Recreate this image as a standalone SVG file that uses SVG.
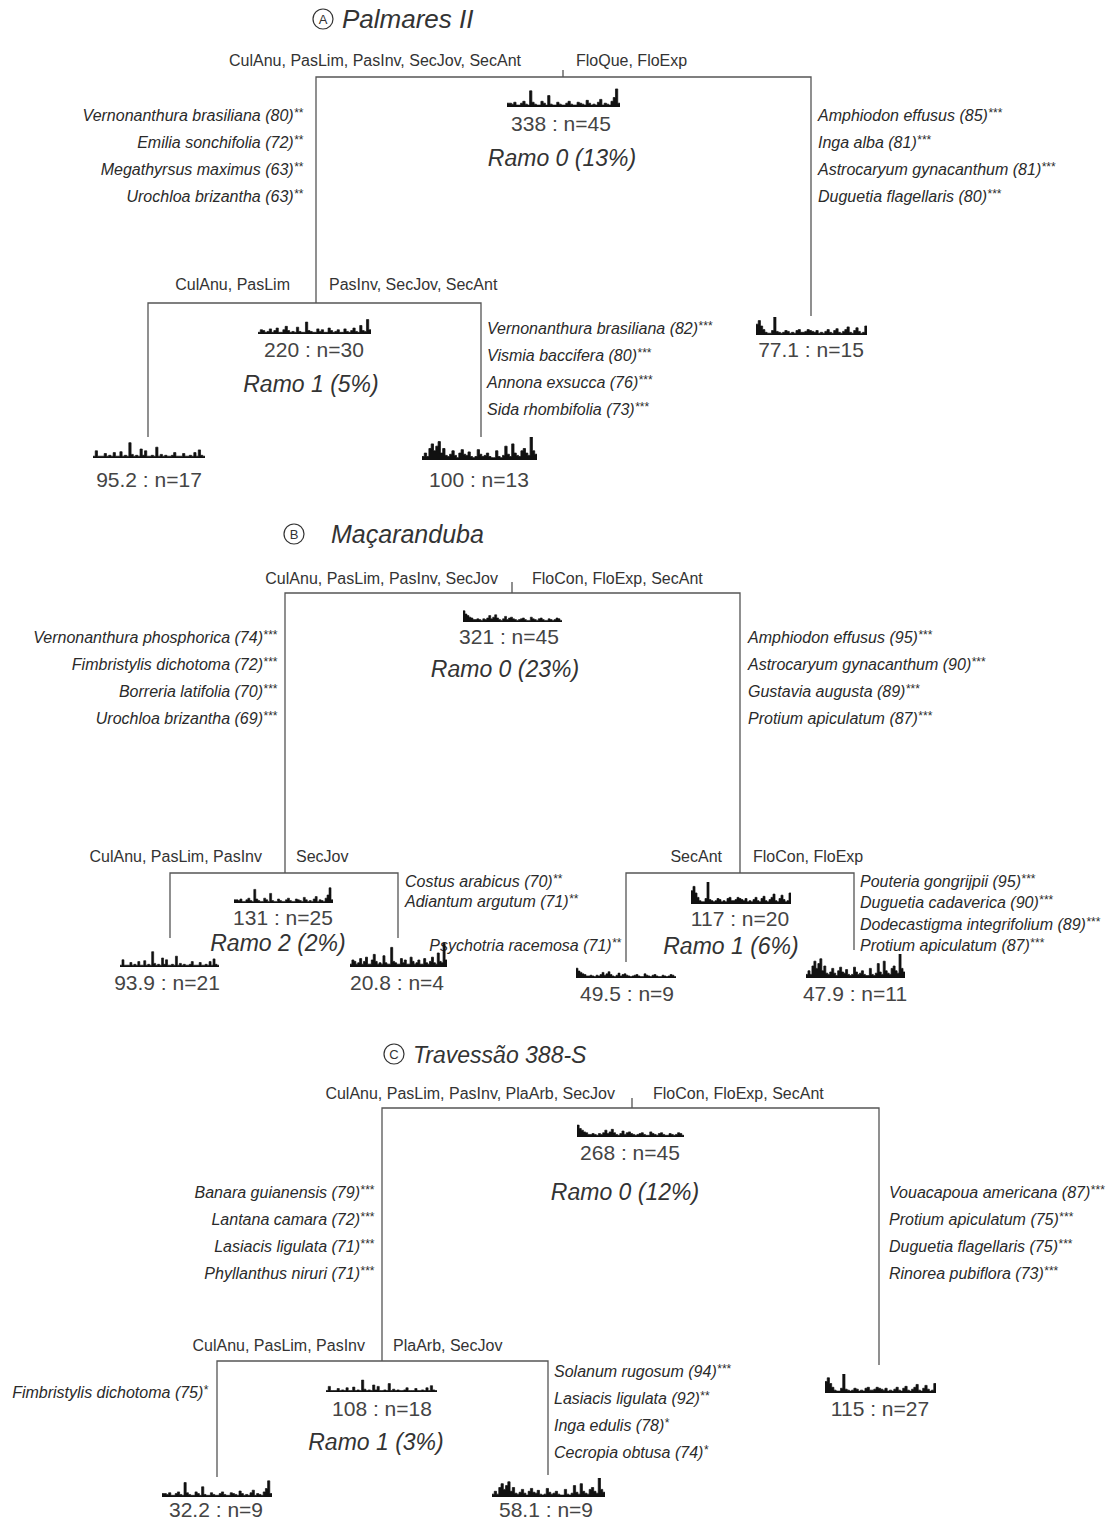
<svg xmlns="http://www.w3.org/2000/svg" xmlns:xlink="http://www.w3.org/1999/xlink" width="1112" height="1522" viewBox="0 0 1112 1522">
<style>
.bg{fill:#fff}
.ttl{font-family:"Liberation Sans",Arial,sans-serif;font-style:italic;fill:#333}
.circ{fill:none;stroke:#333;stroke-width:1.2}
.cl{font-family:"Liberation Sans",Arial,sans-serif;font-size:13px;fill:#333;text-anchor:middle}
.lbl{font-family:"Liberation Sans",Arial,sans-serif;font-size:16px;fill:#333}
.sp{font-family:"Liberation Sans",Arial,sans-serif;font-size:16px;font-style:italic;fill:#2a2a2a}
.st{font-size:12px}
.num{font-family:"Liberation Sans",Arial,sans-serif;font-size:21px;fill:#444;text-anchor:middle}
.ramo{font-family:"Liberation Sans",Arial,sans-serif;font-size:23px;font-style:italic;fill:#333;text-anchor:middle}
.conn{stroke:#555;stroke-width:1.3;fill:none}
.end{text-anchor:end}
.h{fill:#111;stroke:#111;stroke-width:0.7;stroke-linejoin:miter}
</style>
<defs>
<symbol id="p1" viewBox="0 0 100 20" preserveAspectRatio="none"><path class="h" d="M0 20V16h2V16h2V17h2V15h2V18h2V18h2V16h2V14h2V17h2V18h2V3h2V15h2V17h2V18h2V18h2V14h2V16h2V18h2V8h2V17h2V18h2V18h2V15h2V17h2V18h2V18h2V16h2V14h2V17h2V18h2V18h2V15h2V16h2V17h2V18h2V13h2V16h2V18h2V17h2V18h2V15h2V12h2V18h2V16h2V17h2V18h2V14h2V10h2V1h2V16h2V20Z"/></symbol>
<symbol id="p2" viewBox="0 0 100 20" preserveAspectRatio="none"><path class="h" d="M0 20V18h2V15h2V16h2V18h2V17h2V14h2V18h2V16h2V13h2V18h2V18h2V15h2V11h2V16h2V18h2V17h2V18h2V12h2V17h2V18h2V18h2V6h2V16h2V17h2V18h2V18h2V14h2V17h2V15h2V18h2V18h2V13h2V16h2V18h2V17h2V15h2V18h2V18h2V14h2V17h2V18h2V16h2V13h2V17h2V18h2V10h2V16h2V17h2V3h2V15h2V20Z"/></symbol>
<symbol id="p3" viewBox="0 0 100 20" preserveAspectRatio="none"><path class="h" d="M0 20V18h2V12h2V18h2V18h2V18h2V15h2V18h2V17h2V18h2V14h2V18h2V18h2V13h2V18h2V17h2V18h2V3h2V16h2V18h2V17h2V18h2V10h2V17h2V12h2V18h2V18h2V17h2V18h2V8h2V18h2V16h2V18h2V17h2V18h2V18h2V17h2V14h2V18h2V18h2V18h2V15h2V18h2V18h2V17h2V18h2V14h2V18h2V11h2V17h2V18h2V20Z"/></symbol>
<symbol id="p4" viewBox="0 0 100 20" preserveAspectRatio="none"><path class="h" d="M0 20V17h2V14h2V17h2V10h2V6h2V12h2V8h2V4h2V14h2V10h2V16h2V17h2V15h2V12h2V16h2V18h2V14h2V11h2V15h2V16h2V13h2V17h2V18h2V17h2V11h2V15h2V17h2V16h2V14h2V17h2V18h2V18h2V12h2V17h2V18h2V16h2V8h2V15h2V17h2V6h2V14h2V16h2V17h2V12h2V10h2V14h2V16h2V0h2V12h2V15h2V20Z"/></symbol>
<symbol id="p5" viewBox="0 0 100 20" preserveAspectRatio="none"><path class="h" d="M0 20V8h2V4h2V10h2V14h2V17h2V18h2V18h2V15h2V0h2V16h2V17h2V18h2V17h2V15h2V16h2V18h2V17h2V18h2V15h2V14h2V17h2V17h2V16h2V14h2V15h2V16h2V17h2V15h2V18h2V17h2V18h2V16h2V14h2V17h2V18h2V15h2V13h2V17h2V18h2V16h2V14h2V11h2V17h2V18h2V15h2V12h2V16h2V18h2V17h2V10h2V20Z"/></symbol>
<symbol id="p6" viewBox="0 0 100 20" preserveAspectRatio="none"><path class="h" d="M0 20V6h2V10h2V12h2V14h2V15h2V17h2V17h2V16h2V17h2V18h2V16h2V17h2V15h2V12h2V16h2V14h2V11h2V15h2V17h2V18h2V16h2V13h2V17h2V15h2V14h2V16h2V17h2V18h2V17h2V16h2V15h2V17h2V18h2V18h2V14h2V16h2V17h2V18h2V16h2V15h2V17h2V18h2V18h2V16h2V17h2V18h2V17h2V15h2V16h2V18h2V20Z"/></symbol>
</defs>
<rect class="bg" x="0" y="0" width="1112" height="1522"/>

<g id="connectors">
<path class="conn" d="M316 303V77H811V316M563 70V77M148 437V303H481V437"/>
<path class="conn" d="M285 873V593H740V873M512 582V593M170 938V873H398V938M626 962V873H854V950"/>
<path class="conn" d="M382 1361V1108H879V1365M632 1098V1108M217 1477V1361H548V1475"/>
</g>

<g id="panelA">
<g id="titleA"><circle class="circ" cx="323" cy="19" r="10"/><text class="cl" x="323" y="24">A</text><text class="ttl" x="342" y="28" font-size="26">Palmares II</text></g>
<g id="A-split0-labels"><text class="lbl end" x="521" y="66">CulAnu, PasLim, PasInv, SecJov, SecAnt</text><text class="lbl" x="576" y="66">FloQue, FloExp</text></g>
<g id="A-node0">
<use href="#p1" x="507" y="88" width="113" height="19"/>
<text class="num" x="561" y="131">338 : n=45</text>
<text class="ramo" x="562" y="166">Ramo 0 (13%)</text>
</g>
<g id="A-species0-left" class="sp">
<text class="end" x="303" y="121">Vernonanthura brasiliana (80)<tspan class="st" dy="-4">**</tspan></text>
<text class="end" x="303" y="148">Emilia sonchifolia (72)<tspan class="st" dy="-4">**</tspan></text>
<text class="end" x="303" y="175">Megathyrsus maximus (63)<tspan class="st" dy="-4">**</tspan></text>
<text class="end" x="303" y="202">Urochloa brizantha (63)<tspan class="st" dy="-4">**</tspan></text>
</g>
<g id="A-species0-right" class="sp">
<text x="818" y="121">Amphiodon effusus (85)<tspan class="st" dy="-4">***</tspan></text>
<text x="818" y="148">Inga alba (81)<tspan class="st" dy="-4">***</tspan></text>
<text x="818" y="175">Astrocaryum gynacanthum (81)<tspan class="st" dy="-4">***</tspan></text>
<text x="818" y="202">Duguetia flagellaris (80)<tspan class="st" dy="-4">***</tspan></text>
</g>
<g id="A-split1-labels"><text class="lbl end" x="290" y="290">CulAnu, PasLim</text><text class="lbl" x="329" y="290">PasInv, SecJov, SecAnt</text></g>
<g id="A-node1">
<use href="#p2" x="258" y="317" width="113" height="17"/>
<text class="num" x="314" y="357">220 : n=30</text>
<text class="ramo" x="311" y="392">Ramo 1 (5%)</text>
</g>
<g id="A-species1-right" class="sp">
<text x="487" y="334">Vernonanthura brasiliana (82)<tspan class="st" dy="-4">***</tspan></text>
<text x="487" y="361">Vismia baccifera (80)<tspan class="st" dy="-4">***</tspan></text>
<text x="487" y="388">Annona exsucca (76)<tspan class="st" dy="-4">***</tspan></text>
<text x="487" y="415">Sida rhombifolia (73)<tspan class="st" dy="-4">***</tspan></text>
</g>
<g id="A-leaf1"><use href="#p3" x="93" y="440" width="112" height="18"/><text class="num" x="149" y="487">95.2 : n=17</text></g>
<g id="A-leaf2"><use href="#p4" x="422" y="437" width="115" height="23"/><text class="num" x="479" y="487">100 : n=13</text></g>
<g id="A-leaf3"><use href="#p5" x="756" y="317" width="111" height="18"/><text class="num" x="811" y="357">77.1 : n=15</text></g>
</g>

<g id="panelB">
<g id="titleB"><circle class="circ" cx="294" cy="534" r="10"/><text class="cl" x="294" y="539">B</text><text class="ttl" x="331" y="543" font-size="25">Maçaranduba</text></g>
<g id="B-split0-labels"><text class="lbl end" x="498" y="584">CulAnu, PasLim, PasInv, SecJov</text><text class="lbl" x="532" y="584">FloCon, FloExp, SecAnt</text></g>
<g id="B-node0">
<use href="#p6" x="463" y="606" width="99" height="16"/>
<text class="num" x="509" y="644">321 : n=45</text>
<text class="ramo" x="505" y="677">Ramo 0 (23%)</text>
</g>
<g id="B-species0-left" class="sp">
<text class="end" x="277" y="643">Vernonanthura phosphorica (74)<tspan class="st" dy="-4">***</tspan></text>
<text class="end" x="277" y="670">Fimbristylis dichotoma (72)<tspan class="st" dy="-4">***</tspan></text>
<text class="end" x="277" y="697">Borreria latifolia (70)<tspan class="st" dy="-4">***</tspan></text>
<text class="end" x="277" y="724">Urochloa brizantha (69)<tspan class="st" dy="-4">***</tspan></text>
</g>
<g id="B-species0-right" class="sp">
<text x="748" y="643">Amphiodon effusus (95)<tspan class="st" dy="-4">***</tspan></text>
<text x="748" y="670">Astrocaryum gynacanthum (90)<tspan class="st" dy="-4">***</tspan></text>
<text x="748" y="697">Gustavia augusta (89)<tspan class="st" dy="-4">***</tspan></text>
<text x="748" y="724">Protium apiculatum (87)<tspan class="st" dy="-4">***</tspan></text>
</g>
<g id="B-split2-labels"><text class="lbl end" x="262" y="862">CulAnu, PasLim, PasInv</text><text class="lbl" x="296" y="862">SecJov</text></g>
<g id="B-node2">
<use href="#p1" x="234" y="887" width="99" height="16"/>
<text class="num" x="283" y="925">131 : n=25</text>
<text class="ramo" x="278" y="951">Ramo 2 (2%)</text>
</g>
<g id="B-species2" class="sp">
<text x="405" y="887">Costus arabicus (70)<tspan class="st" dy="-4">**</tspan></text>
<text x="405" y="907">Adiantum argutum (71)<tspan class="st" dy="-4">**</tspan></text>
<text class="end" x="621" y="951">Psychotria racemosa (71)<tspan class="st" dy="-4">**</tspan></text>
</g>
<g id="B-leaf21"><use href="#p3" x="120" y="949" width="99" height="18"/><text class="num" x="167" y="990">93.9 : n=21</text></g>
<g id="B-leaf22"><use href="#p2" x="350" y="939" width="97" height="28"/><text class="num" x="397" y="990">20.8 : n=4</text></g>
<g id="B-split1-labels"><text class="lbl end" x="722" y="862">SecAnt</text><text class="lbl" x="753" y="862">FloCon, FloExp</text></g>
<g id="B-node1">
<use href="#p5" x="691" y="882" width="100" height="22"/>
<text class="num" x="740" y="926">117 : n=20</text>
<text class="ramo" x="731" y="954">Ramo 1 (6%)</text>
</g>
<g id="B-species1-right" class="sp">
<text x="860" y="887">Pouteria gongrijpii (95)<tspan class="st" dy="-4">***</tspan></text>
<text x="860" y="908">Duguetia cadaverica (90)<tspan class="st" dy="-4">***</tspan></text>
<text x="860" y="930">Dodecastigma integrifolium (89)<tspan class="st" dy="-4">***</tspan></text>
<text x="860" y="951">Protium apiculatum (87)<tspan class="st" dy="-4">***</tspan></text>
</g>
<g id="B-leaf11"><use href="#p6" x="576" y="964" width="100" height="14"/><text class="num" x="627" y="1001">49.5 : n=9</text></g>
<g id="B-leaf12"><use href="#p4" x="806" y="954" width="99" height="24"/><text class="num" x="855" y="1001">47.9 : n=11</text></g>
</g>

<g id="panelC">
<g id="titleC"><circle class="circ" cx="394" cy="1054" r="10"/><text class="cl" x="394" y="1059">C</text><text class="ttl" x="413" y="1063" font-size="23">Travessão 388-S</text></g>
<g id="C-split0-labels"><text class="lbl end" x="615" y="1099">CulAnu, PasLim, PasInv, PlaArb, SecJov</text><text class="lbl" x="653" y="1099">FloCon, FloExp, SecAnt</text></g>
<g id="C-node0">
<use href="#p6" x="577" y="1120" width="107" height="17"/>
<text class="num" x="630" y="1160">268 : n=45</text>
<text class="ramo" x="625" y="1200">Ramo 0 (12%)</text>
</g>
<g id="C-species0-left" class="sp">
<text class="end" x="374" y="1198">Banara guianensis (79)<tspan class="st" dy="-4">***</tspan></text>
<text class="end" x="374" y="1225">Lantana camara (72)<tspan class="st" dy="-4">***</tspan></text>
<text class="end" x="374" y="1252">Lasiacis ligulata (71)<tspan class="st" dy="-4">***</tspan></text>
<text class="end" x="374" y="1279">Phyllanthus niruri (71)<tspan class="st" dy="-4">***</tspan></text>
</g>
<g id="C-species0-right" class="sp">
<text x="889" y="1198">Vouacapoua americana (87)<tspan class="st" dy="-4">***</tspan></text>
<text x="889" y="1225">Protium apiculatum (75)<tspan class="st" dy="-4">***</tspan></text>
<text x="889" y="1252">Duguetia flagellaris (75)<tspan class="st" dy="-4">***</tspan></text>
<text x="889" y="1279">Rinorea pubiflora (73)<tspan class="st" dy="-4">***</tspan></text>
</g>
<g id="C-split1-labels"><text class="lbl end" x="365" y="1351">CulAnu, PasLim, PasInv</text><text class="lbl" x="393" y="1351">PlaArb, SecJov</text></g>
<g id="C-node1">
<use href="#p3" x="326" y="1378" width="111" height="14"/>
<text class="num" x="382" y="1416">108 : n=18</text>
<text class="ramo" x="376" y="1450">Ramo 1 (3%)</text>
</g>
<g id="C-species1" class="sp">
<text class="end" x="208" y="1398">Fimbristylis dichotoma (75)<tspan class="st" dy="-4">*</tspan></text>
<text x="554" y="1377">Solanum rugosum (94)<tspan class="st" dy="-4">***</tspan></text>
<text x="554" y="1404">Lasiacis ligulata (92)<tspan class="st" dy="-4">**</tspan></text>
<text x="554" y="1431">Inga edulis (78)<tspan class="st" dy="-4">*</tspan></text>
<text x="554" y="1458">Cecropia obtusa (74)<tspan class="st" dy="-4">*</tspan></text>
</g>
<g id="C-leaf11"><use href="#p1" x="162" y="1480" width="110" height="17"/><text class="num" x="216" y="1517">32.2 : n=9</text></g>
<g id="C-leaf12"><use href="#p4" x="492" y="1478" width="113" height="19"/><text class="num" x="546" y="1517">58.1 : n=9</text></g>
<g id="C-leaf2"><use href="#p5" x="825" y="1374" width="111" height="19"/><text class="num" x="880" y="1416">115 : n=27</text></g>
</g>
</svg>
